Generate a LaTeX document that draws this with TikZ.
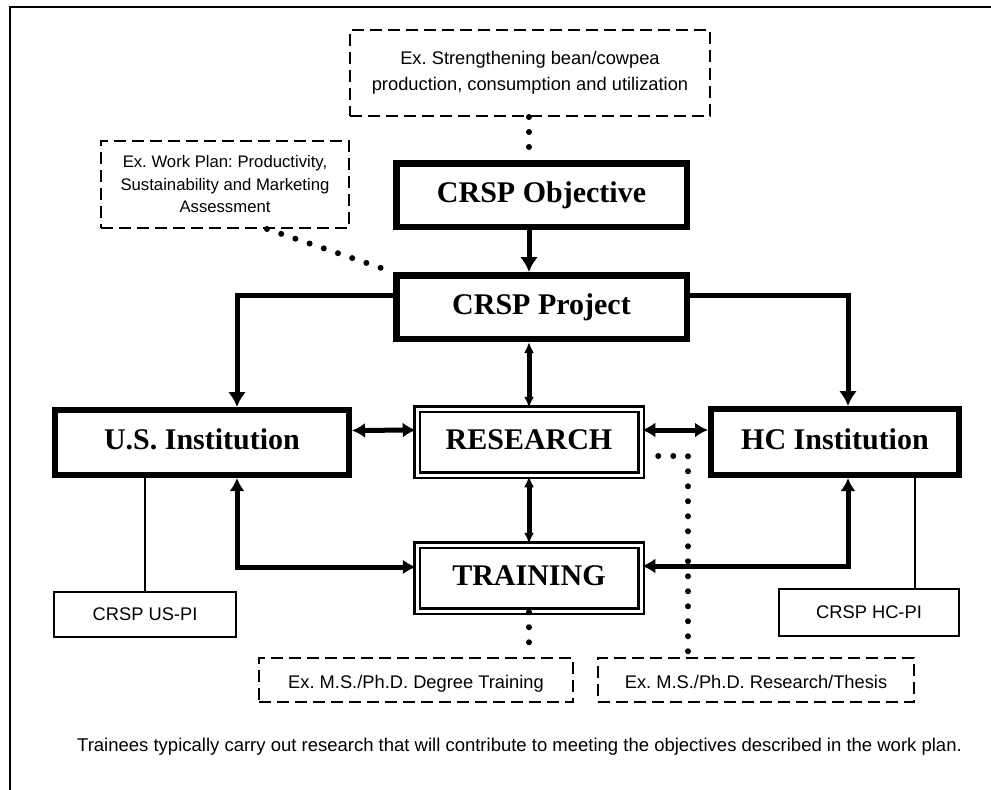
\documentclass[tikz,border=0pt]{standalone}
\usepackage{fontspec}
\setmainfont{Liberation Sans}
\newfontfamily\boxserif{Liberation Serif}
\usetikzlibrary{arrows.meta}
\frenchspacing

\begin{document}
\begin{tikzpicture}[x=1pt, y=-1pt,
			every node/.style = {shape=rectangle, align=center, inner sep=0pt},
			bigbox/.style = {draw, line width=6.5pt, minimum width=290.5pt, minimum height=63.5pt,
				text height=20pt, text depth=6pt,
				font=\boxserif\bfseries\fontsize{30}{34}\selectfont},
			dblbox/.style = {draw, double, line width=2.5pt, double distance=3pt,
				minimum width=224pt, minimum height=66pt,
				text height=20pt, text depth=6pt,
				font=\boxserif\bfseries\fontsize{30}{34}\selectfont},
			exbox/.style = {draw, dash pattern=on 12pt off 6pt, line width=2pt,
				font=\fontsize{18.3}{26}\selectfont},
			pibox/.style = {draw, line width=2pt, font=\fontsize{18.3}{22}\selectfont},
			link/.style = {line width=5pt, -{Latex[length=15pt,width=18pt]}},
			twolink/.style = {line width=5pt, {Latex[length=13pt,width=15pt]}-{Latex[length=13pt,width=15pt]}},
			slimlink/.style = {line width=5pt, {Latex[length=11pt,width=10pt]}-{Latex[length=11pt,width=10pt]}},
			dotlink/.style = {line width=6pt, line cap=round, dash pattern=on 0pt off 15pt}]
	\useasboundingbox (0,0) rectangle (991,790);
	\draw[line width=2.5pt] (10,790) -- (10,7) -- (991,7);
	\node[exbox, minimum width=360pt, minimum height=86pt] (strg) at (530,73)
		{Ex. Strengthening bean/cowpea\\production, consumption and utilization};
	\node[exbox, minimum width=248pt, minimum height=87pt, font=\fontsize{16.7}{22.5}\selectfont] (plan) at (225,184.5)
		{Ex. Work Plan: Productivity,\\Sustainability and Marketing\\Assessment};
	\node[bigbox] (obj) at (541.5,195) {CRSP Objective};
	\node[bigbox] (proj) at (541.5,307) {CRSP Project};
	\node[bigbox, line width=6pt, minimum width=294pt, minimum height=65pt] (us) at (202,442.5) {U.S. Institution};
	\node[dblbox] (res) at (529,442) {RESEARCH};
	\node[bigbox, line width=6pt, minimum width=248pt, minimum height=66pt] (hc) at (835,442) {HC Institution};
	\node[dblbox] (trn) at (529,578) {TRAINING};
	\node[pibox, minimum width=182pt, minimum height=45pt] (uspi) at (145,614.5) {CRSP US-PI};
	\node[pibox, minimum width=180pt, minimum height=47pt] (hcpi) at (869,612.5) {CRSP HC-PI};
	\node[exbox, minimum width=314pt, minimum height=44pt, text height=16pt, text depth=0pt] (deg) at (416,680)
		{Ex. M.S./Ph.D. Degree Training};
	\node[exbox, minimum width=316pt, minimum height=44pt, text height=16pt, text depth=0pt] (thes) at (756,680)
		{Ex. M.S./Ph.D. Research/Thesis};
	\node[font=\fontsize{18.5}{22}\selectfont] (note) at (519.5,747)
		{Trainees typically carry out research that will contribute to meeting the objectives described in the work plan.};
	\draw[dotlink] (strg.south -| res.north) -- (obj.north -| res.north);
	\draw[dotlink] ([xshift=42pt]plan.south) -- (proj.north west);
	\draw[link] (obj.south -| res.north) -- (proj.north -| res.north);
	\draw[link] ([yshift=12pt]proj.west) -| ([xshift=35pt]us.north);
	\draw[link] ([yshift=12pt]proj.east) -| ([xshift=13pt]hc.north);
	\draw[slimlink] (proj.south -| res.north) -- (res.north);
	\draw[twolink] ([yshift=12pt]us.east) -- ([yshift=12pt]res.west);
	\draw[twolink] ([yshift=12pt]res.east) -- ([yshift=12pt]hc.west);
	\draw[slimlink] (res.south) -- (trn.north);
	\draw[twolink] ([xshift=35pt]us.south) |- ([yshift=11pt]trn.west);
	\draw[twolink] ([xshift=13pt]hc.south) |- ([yshift=12pt]trn.east);
	\draw[line width=1.3pt] (us.south -| uspi.north) -- (uspi.north);
	\draw[line width=1.3pt] ([xshift=80pt]hc.south) -- ([xshift=46pt]hcpi.north);
	\draw[dotlink] ([shift={(16pt,-14pt)}]res.east) -| ([xshift=-68pt]thes.north);
	\draw[dotlink] (trn.south) -- (trn.south |- deg.north);
\end{tikzpicture}
\end{document}
